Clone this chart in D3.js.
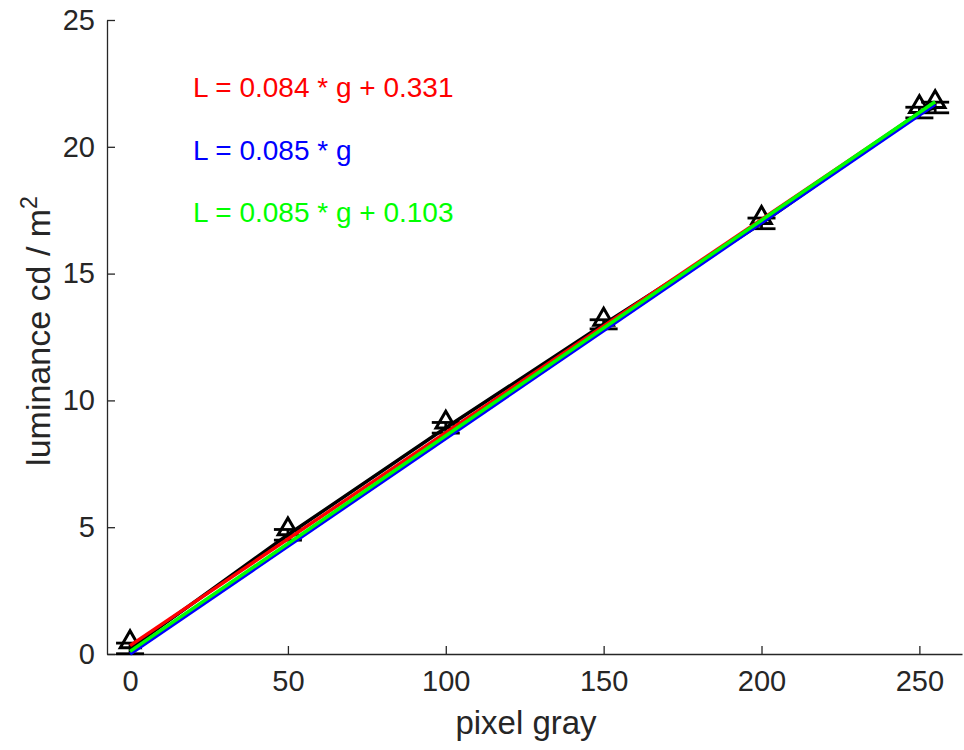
<!DOCTYPE html>
<html><head><meta charset="utf-8">
<script src="https://cdn.jsdelivr.net/npm/d3@7"></script>
<style>body{margin:0;background:#fff}svg{display:block}</style>
</head><body>
<script>
// ---- data ----
const grayLevels = [0, 50, 100, 150, 200, 250, 255];
const lumMean    = [0.22, 4.70, 8.92, 13.00, 16.98, 21.35, 21.55];
const lumErr     = [0.21, 0.21, 0.21, 0.18, 0.21, 0.21, 0.21];
const lumMarker  = [0.47, 4.92, 9.13, 13.19, 17.20, 21.57, 21.77];
const fits = [
  {label: "L = 0.084 * g + 0.331", slope: 0.084, intercept: 0.331, color: "#ff0000"},
  {label: "L = 0.085 * g",         slope: 0.085, intercept: 0,     color: "#0000ff"},
  {label: "L = 0.085 * g + 0.103", slope: 0.085, intercept: 0.103, color: "#00ff00"}
];
const xTicks = [0, 50, 100, 150, 200, 250];
const yTicks = [0, 5, 10, 15, 20, 25];

const W = 964, H = 750;
const m = {left: 107, right: 2, top: 20, bottom: 96};
const svg = d3.select("body").append("svg").attr("width", W).attr("height", H);
const x = d3.scaleLinear().domain([-7.3, 263.5]).range([m.left, W - m.right]);
const y = d3.scaleLinear().domain([0, 25]).range([H - m.bottom, m.top]);
const font = "'Liberation Sans', Arial, Helvetica, sans-serif";
const axCol = "#262626";

// axes
const xAxis = svg.append("g").attr("transform", `translate(0,${H - m.bottom})`)
  .call(d3.axisBottom(x).tickValues(xTicks).tickSizeInner(-8).tickSizeOuter(0).tickPadding(16));
const yAxis = svg.append("g").attr("transform", `translate(${m.left},0)`)
  .call(d3.axisLeft(y).tickValues(yTicks).tickSizeInner(-8).tickSizeOuter(0).tickPadding(12));
[xAxis, yAxis].forEach(a => {
  a.select(".domain").attr("stroke", axCol).attr("stroke-width", 1.3);
  a.selectAll(".tick line").attr("stroke", axCol).attr("stroke-width", 1.3);
  a.selectAll("text").attr("fill", axCol).style("font-family", font).style("font-size", "29px");
});

// data line (black)
const line = d3.line().x(d => x(d[0])).y(d => y(d[1]));
svg.append("path").datum(grayLevels.map((g, i) => [g, lumMean[i]]))
  .attr("d", line).attr("fill", "none").attr("stroke", "#000").attr("stroke-width", 3.5);

// error bars
const eb = svg.append("g").attr("stroke", "#000").attr("stroke-width", 2.8);
grayLevels.forEach((g, i) => {
  const cx = x(g), lo = y(lumMean[i] - lumErr[i]), hi = y(lumMean[i] + lumErr[i]);
  eb.append("line").attr("x1", cx).attr("x2", cx).attr("y1", lo).attr("y2", hi);
  eb.append("line").attr("x1", cx - 14).attr("x2", cx + 14).attr("y1", lo).attr("y2", lo);
  eb.append("line").attr("x1", cx - 14).attr("x2", cx + 14).attr("y1", hi).attr("y2", hi);
});

// triangle markers
const tri = d3.symbol().type(d3.symbolTriangle).size(165);
svg.append("g").selectAll("path").data(grayLevels.map((g, i) => [g, lumMarker[i]])).join("path")
  .attr("d", tri).attr("transform", d => `translate(${x(d[0])},${y(d[1])})`)
  .attr("fill", "none").attr("stroke", "#000").attr("stroke-width", 3);

// fit lines
const gRange = [0, 255];
fits.forEach(f => {
  svg.append("path").datum(gRange.map(g => [g, f.slope * g + f.intercept]))
    .attr("d", line).attr("fill", "none").attr("stroke", f.color).attr("stroke-width", 3.5);
});

// fit labels
fits.forEach((f, i) => {
  svg.append("text").attr("x", 193).attr("y", 97 + i * 62.5)
    .attr("fill", f.color).style("font-family", font).style("font-size", "28px").text(f.label);
});

// axis labels
svg.append("text").attr("x", 526).attr("y", 734).attr("text-anchor", "middle")
  .attr("fill", axCol).style("font-family", font).style("font-size", "33px").text("pixel gray");
const yl = svg.append("text").attr("transform", `translate(50,331) rotate(-90)`)
  .attr("text-anchor", "middle").attr("fill", axCol).style("font-family", font).style("font-size", "34px");
yl.append("tspan").text("luminance cd / m");
yl.append("tspan").attr("dy", -13).style("font-size", "23px").text("2");
</script>
</body></html>
